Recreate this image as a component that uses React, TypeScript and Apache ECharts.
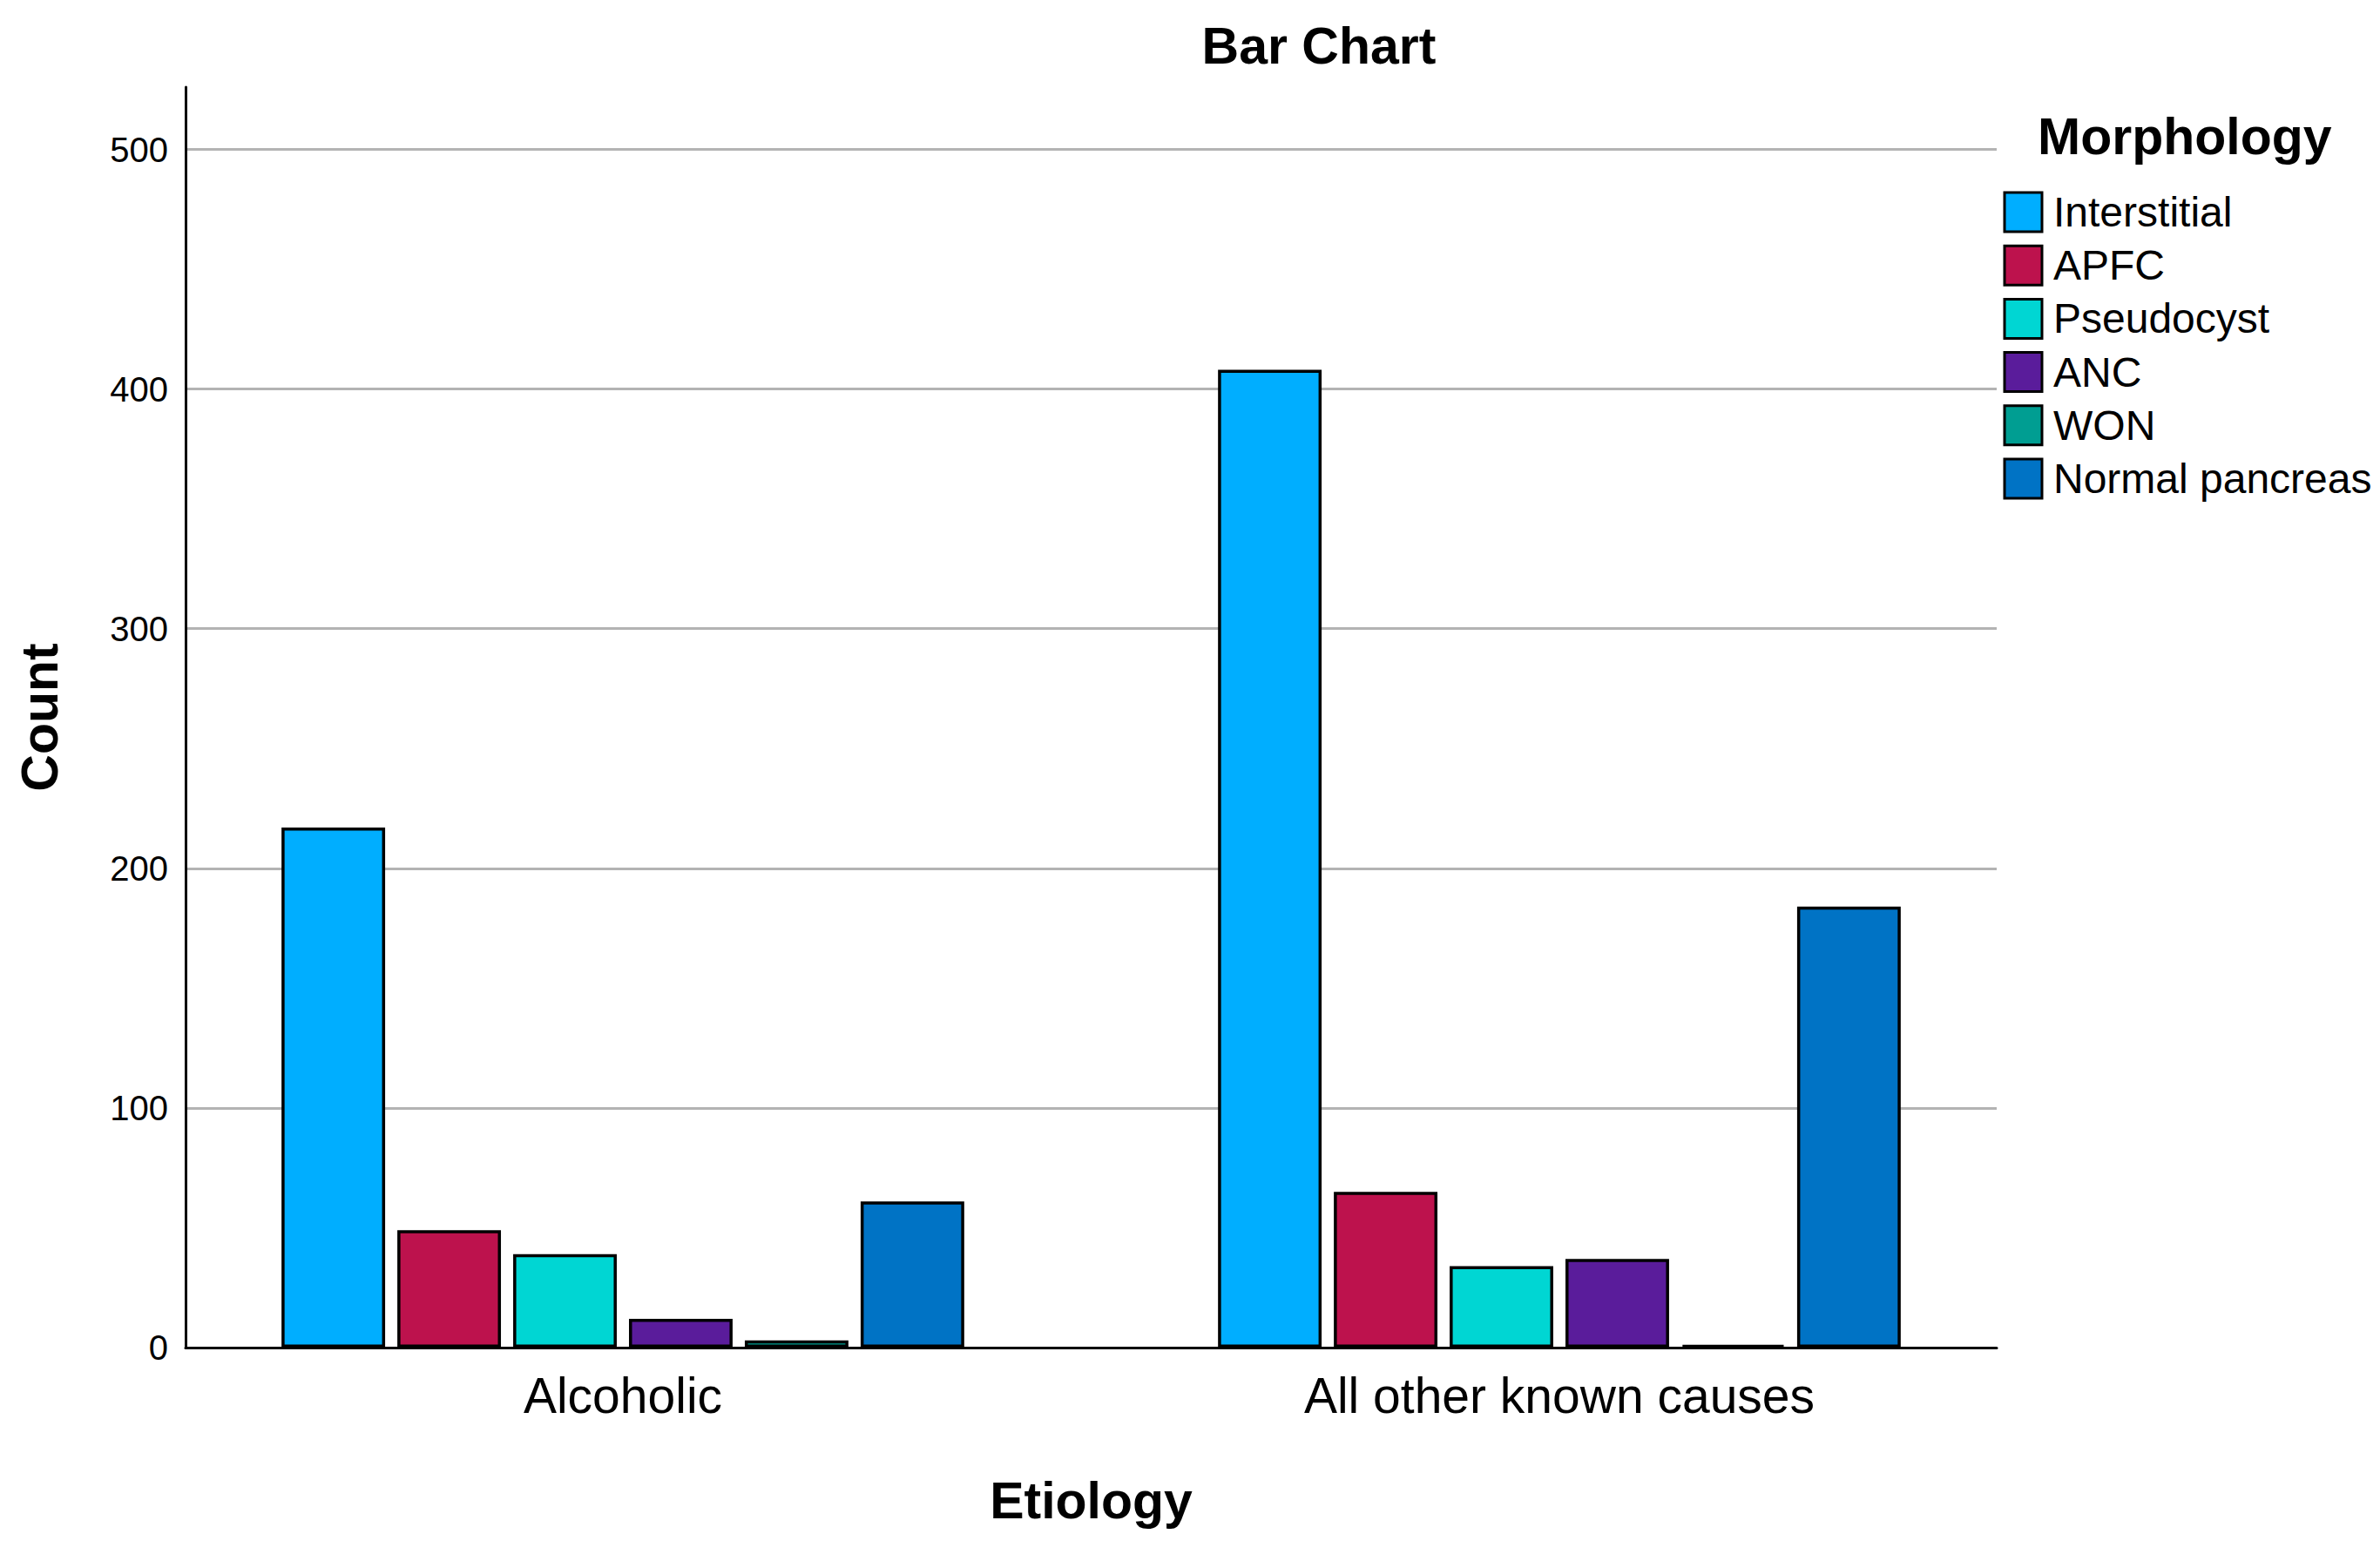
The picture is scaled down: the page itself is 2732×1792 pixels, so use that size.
import React, { useEffect, useRef } from "react";
import * as echarts from "echarts";

const categories = ["Alcoholic", "All other known causes"];
const morphologies = ["Interstitial", "APFC", "Pseudocyst", "ANC", "WON", "Normal pancreas"];
const alcoholicCounts = [217, 49, 39, 12, 3, 61];
const otherCauseCounts = [408, 65, 34, 37, 1, 184];
const yTickLabels = [0, 100, 200, 300, 400, 500];
const barColors = ["#00AEFF", "#BD124D", "#00D6D3", "#5A1C9B", "#009E92", "#0073C5"];

const FONT = "'Liberation Sans', Arial, sans-serif";

export default function App() {
  const ref = useRef<HTMLDivElement>(null);

  useEffect(() => {
    if (!ref.current) return;
    const chart = echarts.init(ref.current, null, { renderer: "svg" });

    const series = morphologies.map((name, i) => ({
      name,
      type: "bar",
      xAxisIndex: 1,
      yAxisIndex: 1,
      data: [alcoholicCounts[i], otherCauseCounts[i]],
      barGap: "11.8%",
      barCategoryGap: "27.1%",
      itemStyle: { color: barColors[i], borderColor: "#000", borderWidth: 3.5 },
      emphasis: { disabled: true },
    }));

    const option: any = {
      animation: false,
      backgroundColor: "#ffffff",
      textStyle: { fontFamily: FONT },
      color: barColors,
      graphic: [
        {
          type: "text",
          x: 1514,
          y: 23,
          style: {
            text: "Bar Chart",
            textAlign: "center",
            textVerticalAlign: "top",
            fontFamily: FONT,
            fontSize: 59,
            fontWeight: "bold",
            fill: "#000",
          },
        },
        {
          type: "text",
          x: 2339,
          y: 127,
          style: {
            text: "Morphology",
            textAlign: "left",
            textVerticalAlign: "top",
            fontFamily: FONT,
            fontSize: 59,
            fontWeight: "bold",
            fill: "#000",
          },
        },
      ],
      legend: {
        orient: "vertical",
        left: 2299.5,
        top: 219.5,
        padding: 0,
        itemWidth: 43,
        itemHeight: 45,
        itemGap: 13.2,
        icon: "rect",
        selectedMode: false,
        data: morphologies,
        itemStyle: { borderColor: "#000", borderWidth: 3 },
        textStyle: { fontFamily: FONT, fontSize: 48, color: "#000", padding: [0, 0, 0, 8] },
      },
      grid: [
        { left: 213, right: 440, top: 100, bottom: 245 },
        { left: 177.5, right: 404.5, top: 100, bottom: 245 },
      ],
      xAxis: [
        {
          type: "category",
          gridIndex: 0,
          data: categories,
          axisLine: { show: true, lineStyle: { color: "#000", width: 3 } },
          axisTick: { show: false },
          axisLabel: { show: false },
          splitLine: { show: false },
          name: "Etiology",
          nameLocation: "middle",
          nameGap: 146,
          nameTextStyle: { fontFamily: FONT, fontSize: 59, fontWeight: "bold", color: "#000" },
        },
        {
          type: "category",
          gridIndex: 1,
          data: categories,
          axisLine: { show: false },
          axisTick: { show: false },
          splitLine: { show: false },
          axisLabel: { fontFamily: FONT, fontSize: 57, color: "#000", margin: 26 },
        },
      ],
      yAxis: [
        {
          type: "value",
          gridIndex: 0,
          min: 0,
          max: 526,
          interval: 100,
          name: "Count",
          nameLocation: "middle",
          nameGap: 138,
          nameRotate: 90,
          nameTextStyle: { fontFamily: FONT, fontSize: 59, fontWeight: "bold", color: "#000" },
          axisLine: { show: true, lineStyle: { color: "#000", width: 3 } },
          axisTick: { show: false },
          axisLabel: {
            fontFamily: FONT,
            fontSize: 40,
            color: "#000",
            margin: 20,
            showMaxLabel: false,
            formatter: (v: number) => (yTickLabels.includes(v) ? String(v) : ""),
          },
          splitLine: { show: true, showMaxLine: false, lineStyle: { color: "#b3b3b3", width: 3 } },
        },
        {
          type: "value",
          gridIndex: 1,
          min: 0,
          max: 526,
          show: false,
          splitLine: { show: false },
        },
      ],
      series,
    };

    chart.setOption(option);
    return () => chart.dispose();
  }, []);

  return (
    <div
      ref={ref}
      style={{ position: "fixed", left: 0, top: 0, width: 2732, height: 1792, background: "#fff" }}
    />
  );
}
